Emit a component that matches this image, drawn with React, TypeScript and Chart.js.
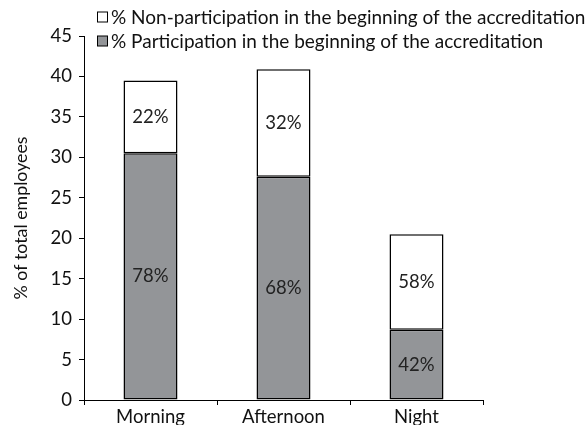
import React, { useEffect, useRef } from 'react';
import { Chart, registerables } from 'chart.js';

Chart.register(...registerables);

const categories = ['Morning', 'Afternoon', 'Night'];
const participation = [30.5, 27.6, 8.7];
const nonParticipation = [9.0, 13.3, 11.8];
const participationLabels = ['78%', '68%', '42%'];
const nonParticipationLabels = ['22%', '32%', '58%'];
const seriesNames = [
  '% Participation in the beginning of the accreditation',
  '% Non-participation in the beginning of the accreditation',
];
const yMin = 0;
const yMax = 45;
const yStep = 5;
const yTitle = '% of total employees';

const FONT = "Lato, 'Noto Sans', sans-serif";

const barLabelPlugin = {
  id: 'barLabels',
  afterDatasetsDraw(chart: any) {
    const ctx = chart.ctx;
    const labelSets = [participationLabels, nonParticipationLabels];
    ctx.save();
    ctx.font = `18.5px ${FONT}`;
    ctx.fillStyle = '#222';
    ctx.textAlign = 'center';
    ctx.textBaseline = 'middle';
    chart.data.datasets.forEach((ds: any, di: number) => {
      const meta = chart.getDatasetMeta(di);
      meta.data.forEach((el: any, i: number) => {
        const p = el.getProps(['x', 'y', 'base'], true);
        ctx.fillText(labelSets[di][i], p.x, (p.y + p.base) / 2);
      });
    });
    ctx.restore();
  },
};

const legendPlugin = {
  id: 'customLegend',
  afterDraw(chart: any) {
    const ctx = chart.ctx;
    ctx.save();
    ctx.font = `19px ${FONT}`;
    ctx.textBaseline = 'middle';
    ctx.textAlign = 'left';
    const items = chart.data.datasets.slice().reverse();
    items.forEach((ds: any, i: number) => {
      const cy = 17 + i * 24;
      ctx.fillStyle = ds.backgroundColor;
      ctx.fillRect(97.5, cy - 5, 10, 10);
      ctx.strokeStyle = '#000';
      ctx.lineWidth = 1;
      ctx.strokeRect(97.5, cy - 5, 10, 10);
      ctx.fillStyle = '#111';
      ctx.fillText(ds.label, 111, cy + 1);
    });
    ctx.restore();
  },
};

export default function App() {
  const ref = useRef<HTMLCanvasElement | null>(null);
  useEffect(() => {
    if (!ref.current) return;
    const chart = new Chart(ref.current, {
      type: 'bar',
      data: {
        labels: categories,
        datasets: [
          {
            label: seriesNames[0],
            data: participation,
            backgroundColor: '#939598',
            borderColor: '#000',
            borderWidth: 1.5,
            borderSkipped: false,
            barPercentage: 0.406,
            categoryPercentage: 1,
          },
          {
            label: seriesNames[1],
            data: nonParticipation,
            backgroundColor: '#ffffff',
            borderColor: '#000',
            borderWidth: 1.5,
            borderSkipped: false,
            barPercentage: 0.406,
            categoryPercentage: 1,
          },
        ],
      },
      options: {
        responsive: false,
        animation: false,
        layout: { padding: { top: 36, right: 103, left: 0, bottom: 0 } },
        plugins: {
          legend: { display: false },
          tooltip: { enabled: false },
        },
        scales: {
          x: {
            stacked: true,
            border: { display: true, color: '#000', width: 1 },
            grid: {
              drawOnChartArea: false,
              drawTicks: true,
              tickLength: 5,
              color: '#000',
              offset: true,
            },
            ticks: {
              color: '#111',
              padding: 1,
              font: { family: FONT, size: 18.5 },
              maxRotation: 0,
            },
            afterFit(scale: any) {
              scale.height = 25;
            },
          },
          y: {
            stacked: true,
            min: yMin,
            max: yMax,
            border: { display: true, color: '#000', width: 1 },
            grid: {
              drawOnChartArea: false,
              drawTicks: true,
              tickLength: 5,
              color: '#000',
            },
            ticks: {
              stepSize: yStep,
              color: '#111',
              padding: 7,
              font: { family: FONT, size: 18.5 },
            },
            title: {
              display: true,
              text: yTitle,
              color: '#111',
              font: { family: FONT, size: 17.8 },
              padding: { top: 11, bottom: 0 },
            },
            afterFit(scale: any) {
              scale.width = 84;
            },
          },
        },
      },
      plugins: [barLabelPlugin, legendPlugin],
    });
    return () => chart.destroy();
  }, []);
  return (
    <div style={{ position: 'fixed', left: 0, top: 0, width: 586, height: 425, background: '#fff' }}>
      <canvas ref={ref} width={586} height={425} style={{ display: 'block' }} />
    </div>
  );
}
